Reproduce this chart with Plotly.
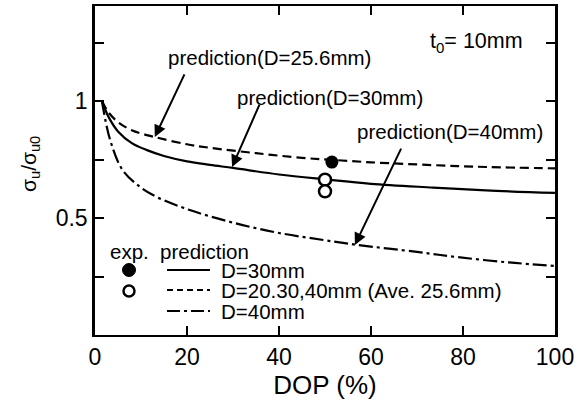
import plotly.graph_objects as go

# ---- data ----
dop_256 = [1.5, 3, 5, 8, 13, 20, 25, 35, 45, 52, 60, 73.5, 85, 100]
su_256 = [1.0, 0.95, 0.91, 0.875, 0.846, 0.815, 0.80, 0.777, 0.757, 0.748, 0.738, 0.726, 0.718, 0.712]

dop_30 = [1.5, 3, 5, 8, 11.3, 15, 20, 25, 30, 40, 50, 60, 73.5, 85, 100]
su_30 = [1.0, 0.93, 0.87, 0.82, 0.79, 0.765, 0.742, 0.727, 0.714, 0.686, 0.665, 0.646, 0.630, 0.618, 0.607]

dop_40 = [1.5, 3.3, 6, 10, 13.4, 20.6, 30, 40, 50, 57, 70, 78.7, 90, 100]
su_40 = [1.0, 0.833, 0.705, 0.63, 0.59, 0.534, 0.48, 0.436, 0.405, 0.385, 0.355, 0.333, 0.31, 0.295]

exp_fill_x = [51.5]
exp_fill_y = [0.739]
exp_open_x = [50, 50]
exp_open_y = [0.664, 0.614]

x_ticks = [0, 20, 40, 60, 80, 100]
y_ticks = [0.25, 0.5, 0.75, 1.0, 1.25]
y_ticktext = [" ", "0.5", " ", "1", " "]

FONT = "Liberation Sans, Arial, sans-serif"

fig = go.Figure()
fig.add_trace(go.Scatter(x=dop_256, y=su_256, mode="lines", line_shape="spline",
                         line=dict(color="black", width=2.2, dash="9px,5px"), showlegend=False))
fig.add_trace(go.Scatter(x=dop_30, y=su_30, mode="lines", line_shape="spline",
                         line=dict(color="black", width=2.2), showlegend=False))
fig.add_trace(go.Scatter(x=dop_40, y=su_40, mode="lines", line_shape="spline",
                         line=dict(color="black", width=2.2, dash="14px,4px,3px,4px"), showlegend=False))
fig.add_trace(go.Scatter(x=exp_fill_x, y=exp_fill_y, mode="markers",
                         marker=dict(symbol="circle", size=13, color="black"), showlegend=False))
fig.add_trace(go.Scatter(x=exp_open_x, y=exp_open_y, mode="markers",
                         marker=dict(symbol="circle", size=12, color="white",
                                     line=dict(color="black", width=2.5)), showlegend=False))

ann = []
def arrow(tx, ty, ax, ay):
    ann.append(dict(x=tx, y=ty, ax=ax, ay=ay, xref="x", yref="y", axref="x", ayref="y",
                    text="", showarrow=True, arrowhead=2, arrowsize=1.2, arrowwidth=2,
                    arrowcolor="black"))

def label(x, y, text, size=20.5, xanchor="center"):
    ann.append(dict(x=x, y=y, xref="x", yref="y", text=text, showarrow=False,
                    xanchor=xanchor, yanchor="middle",
                    font=dict(family=FONT, size=size, color="black")))

label(38, 1.188, "prediction(D=25.6mm)")
label(51, 1.013, "prediction(D=30mm)")
label(77.2, 0.868, "prediction(D=40mm)")
label(83, 1.248, "t<sub>0</sub>= 10mm", size=21.5)
arrow(13.0, 0.846, 19.6, 1.12)
arrow(29.8, 0.718, 35.9, 0.991)
arrow(56.5, 0.385, 66.7, 0.803)

# legend (paper coordinates)
def px(xp):
    return (xp - 95) / 460.0
def py(yp):
    return (335 - yp) / 329.0

LEG_FS = 20.5
leg = []
ann.append(dict(x=px(108), y=py(252), xref="paper", yref="paper", text="exp.", showarrow=False,
                xanchor="left", yanchor="middle", font=dict(family=FONT, size=LEG_FS, color="black")))
ann.append(dict(x=px(158), y=py(252), xref="paper", yref="paper", text="prediction", showarrow=False,
                xanchor="left", yanchor="middle", font=dict(family=FONT, size=LEG_FS, color="black")))
leg_labels = ["D=30mm", "D=20.30,40mm (Ave. 25.6mm)", "D=40mm"]
leg_dash = ["solid", "6px,4px", "13px,4px,3px,4px"]
leg_y = [270, 290, 311]
for t, d, yy in zip(leg_labels, leg_dash, leg_y):
    ann.append(dict(x=px(219), y=py(yy), xref="paper", yref="paper", text=t, showarrow=False,
                    xanchor="left", yanchor="middle", font=dict(family=FONT, size=LEG_FS, color="black")))
    leg.append(dict(type="line", xref="paper", yref="paper", x0=px(167), x1=px(210),
                    y0=py(yy), y1=py(yy), line=dict(color="black", width=2.2, dash=d)))
leg.append(dict(type="circle", xref="paper", yref="paper", x0=px(122.5), x1=px(135.5),
                y0=py(276.5), y1=py(263.5), fillcolor="black", line=dict(color="black", width=1)))
leg.append(dict(type="circle", xref="paper", yref="paper", x0=px(123.5), x1=px(134.5),
                y0=py(296.5), y1=py(285.5), fillcolor="white", line=dict(color="black", width=2.5)))

# y-axis title as rotated annotation
ann.append(dict(x=px(30), y=py(164), xref="paper", yref="paper",
                text="σ<sub>u</sub>/σ<sub>u0</sub>", showarrow=False, textangle=-90,
                xanchor="center", yanchor="middle", font=dict(family=FONT, size=21, color="black")))

fig.update_layout(
    width=588, height=403,
    margin=dict(l=95, r=33, t=6, b=68, autoexpand=False),
    plot_bgcolor="white", paper_bgcolor="white",
    annotations=ann, shapes=leg,
    font=dict(family=FONT, color="black"),
    xaxis=dict(range=[0, 100], tickvals=x_ticks, ticks="inside", ticklen=9, tickwidth=2,
               tickcolor="black", showline=True, linecolor="black", linewidth=2, mirror="ticks",
               showgrid=False, zeroline=False, tickfont=dict(size=23, family=FONT),
               title=dict(text="DOP (%)", font=dict(size=26, family=FONT), standoff=2)),
    yaxis=dict(range=[0, 1.406], tickvals=y_ticks, ticktext=y_ticktext, ticks="inside", ticklen=9,
               tickwidth=2, tickcolor="black", showline=True, linecolor="black", linewidth=2.5,
               mirror="ticks", showgrid=False, zeroline=False, tickfont=dict(size=23, family=FONT)),
)

fig.write_html("out.html", post_script="document.body.style.margin='0px';",
               config={"displayModeBar": False})
